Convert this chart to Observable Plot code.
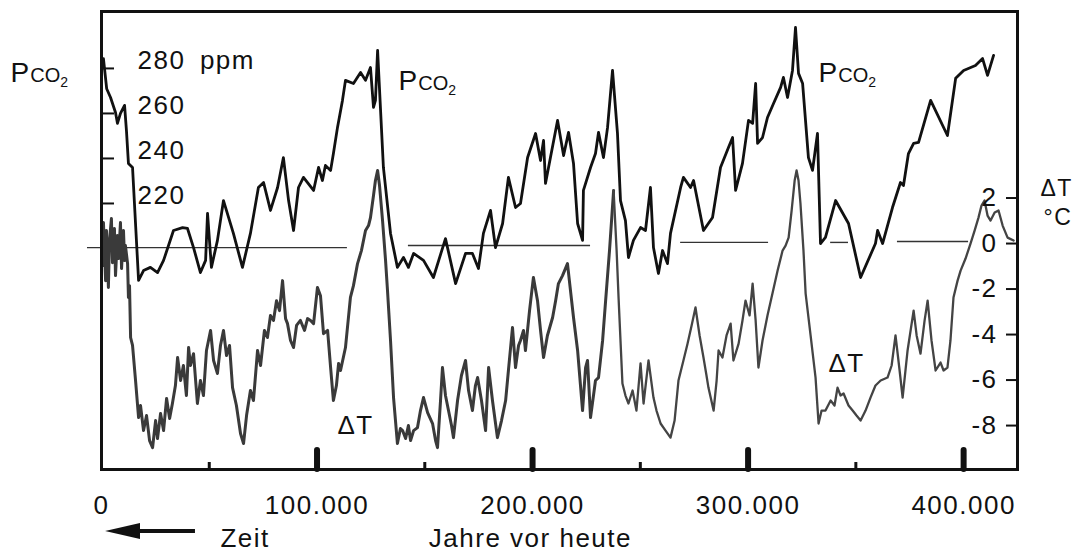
<!DOCTYPE html>
<html><head><meta charset="utf-8">
<script src="https://cdn.jsdelivr.net/npm/d3@7"></script>
<script src="https://cdn.jsdelivr.net/npm/@observablehq/plot@0.6"></script>
<style>
html,body{margin:0;padding:0;background:#fff;}
#chart svg{display:block;}
#chart svg text{letter-spacing:1.5px;}
</style></head><body><div id="chart"></div>
<script>
// CO2 (ppm) vs. thousand years before present
const co2Points = [[0.9,284.4],[2.4,271],[4.2,267.1],[6.5,260.4],[7.4,255.6],[8.8,260.0],[10.7,263.6],[11.6,252],[12.5,237.8],[14.4,236.0],[17.2,185.8],[19.5,190.2],[22.7,191.6],[26.0,189.3],[28.8,194.7],[33.4,208.0],[37.6,209.3],[39.9,208.9],[42.7,200.4],[45.9,189.3],[48.3,194.7],[49.2,215.6],[51.0,191.6],[53.8,203.6],[56.6,221.3],[61.2,206.7],[65.4,191.6],[69.1,206.7],[72.8,227.1],[75.2,229.3],[78.4,216.9],[81.7,227.1],[84.4,240.4],[86.8,221.3],[89.1,208.0],[91.4,227.1],[93.7,231.6],[98.4,225.8],[100.7,236.0],[102.5,230.2],[103.9,236.9],[106.3,234.7],[107.6,242.2],[109.5,253.8],[111.8,265.8],[113.2,274.7],[116.9,273.3],[120.2,278.2],[122.5,274.7],[124.8,280.4],[126.2,262.7],[127.1,265.8],[128.1,288.0],[130.8,236.0],[134.1,206.7],[137.3,191.6],[140.1,196.0],[142.4,191.6],[144.8,197.8],[149.4,194.7],[154.0,187.1],[159.6,204.4],[164.3,184.4],[168.9,197.8],[172.1,197.8],[174.9,191.1],[177.2,206.7],[180.5,216.9],[182.8,200.4],[186.1,211.1],[188.8,231.6],[192.1,218.2],[194.4,220.0],[197.7,240.4],[201.4,251.1],[203.7,239.1],[205.1,248.0],[206.0,228.9],[208.3,240.4],[211.6,256.9],[214.4,241.3],[216.7,251.6],[219.0,237.8],[220.9,211.1],[223.2,203.6],[223.6,225.8],[226.9,236.0],[229.2,242.2],[230.6,251.6],[232.9,240.4],[234.8,253.8],[237.1,279.1],[239.4,251.1],[240.8,221.3],[243.1,212.4],[244.5,196.0],[246.8,203.6],[250.1,209.3],[252.4,208.0],[254.7,227.1],[256.1,200.4],[258.4,188.9],[260.3,199.1],[262.6,193.3],[264.0,206.7],[268.7,227.1],[270.0,231.6],[273.3,227.1],[274.7,230.2],[279.3,208.0],[283.5,213.8],[287.2,236.0],[290.9,244.9],[292.8,249.3],[294.2,225.8],[297.4,237.8],[300.2,256.9],[302.1,255.6],[303.5,273.3],[304.4,246.7],[306.7,249.3],[309.0,258.2],[311.8,264.4],[315.1,271.6],[316.4,276.0],[318.3,267.1],[320.6,279.1],[322.0,298.2],[323.4,277.8],[325.3,273.3],[328.0,240.4],[329.9,234.7],[332.2,251.1],[333.6,202.2],[335.9,204.9],[340.6,221.3],[346.6,211.1],[352.2,187.1],[359.1,202.2],[360.1,208.0],[362.4,202.2],[367.0,218.2],[370.7,229.3],[372.1,228.0],[374.4,242.2],[376.8,246.7],[379.1,247.1],[384.7,265.8],[392.5,250.2],[396.3,275.6],[400.0,279.1],[405.5,281.3],[408.8,284.4],[411.1,276.9],[413.9,285.8]];

// Temperature anomaly (°C) vs. thousand years before present
const tempPoints = [[0,0.35],[0.5,-0.97],[0.9,0.92],[1.9,-1.63],[2.3,0.57],[3.2,-1.93],[3.7,0.13],[4.6,1.10],[5.1,-0.84],[6.0,0.66],[6.5,-1.41],[7.4,0.35],[7.9,-0.66],[8.8,0.92],[9.3,-1.10],[10.2,0.57],[10.7,-0.75],[11.1,-0.09],[12.1,-0.88],[12.5,-2.37],[13.0,-1.85],[13.5,-4.13],[14.4,-4.48],[15.8,-6.02],[17.2,-7.65],[18.1,-7.12],[19.5,-8.22],[20.9,-7.56],[22.3,-8.66],[23.7,-8.97],[25.1,-7.78],[26.0,-8.57],[27.4,-7.47],[28.8,-8.22],[30.2,-6.81],[31.6,-7.69],[32.9,-7.03],[34.3,-6.24],[35.3,-5.01],[36.7,-6.02],[38.0,-5.36],[39.4,-6.68],[40.4,-4.57],[41.3,-5.36],[42.7,-4.84],[44.5,-7.03],[45.9,-6.02],[47.3,-6.68],[48.7,-4.70],[50.6,-3.82],[52.0,-5.14],[53.8,-5.71],[55.2,-4.48],[56.6,-3.82],[58.0,-4.92],[59.4,-4.48],[60.8,-6.33],[62.6,-7.12],[64.5,-8.35],[65.9,-8.79],[67.3,-7.56],[69.1,-6.46],[70.5,-6.90],[72.4,-4.70],[73.8,-5.36],[75.6,-3.82],[77.0,-4.13],[78.4,-3.16],[79.8,-3.38],[81.2,-2.51],[82.6,-2.95],[84.0,-1.63],[85.4,-3.30],[86.3,-3.52],[87.7,-4.26],[89.1,-4.57],[90.5,-3.60],[92.3,-3.38],[94.2,-3.82],[95.6,-3.30],[97.0,-3.38],[98.4,-3.52],[100.2,-1.93],[101.6,-2.29],[103.0,-3.96],[104.9,-3.82],[106.3,-5.45],[107.6,-6.90],[109.0,-6.24],[110.0,-5.27],[110.9,-5.58],[113.2,-4.57],[115.5,-2.37],[116.9,-1.85],[118.8,-0.88],[120.6,-0.31],[122.5,0.57],[123.9,0.79],[124.8,1.14],[126.2,2.11],[127.1,2.77],[128.1,3.21],[129.0,2.55],[130.4,1.01],[131.8,-0.75],[132.7,-2.07],[134.1,-4.26],[135.5,-6.77],[137.3,-8.79],[138.7,-8.13],[139.7,-8.22],[141.1,-8.57],[142.4,-8.00],[143.4,-8.66],[144.8,-8.22],[146.6,-8.09],[148.0,-7.34],[149.4,-6.77],[151.3,-7.43],[153.6,-7.91],[155.0,-8.66],[155.9,-8.97],[157.3,-6.90],[158.2,-5.45],[159.6,-6.68],[161.0,-7.34],[162.4,-8.00],[163.3,-8.53],[165.2,-6.90],[167.0,-5.80],[168.9,-5.14],[170.3,-6.46],[172.1,-7.34],[173.5,-6.24],[174.5,-5.89],[176.3,-6.90],[178.2,-8.22],[179.6,-5.45],[181.4,-6.90],[183.7,-8.53],[185.6,-7.78],[187.5,-6.90],[188.8,-5.58],[190.7,-3.69],[192.1,-5.45],[193.5,-4.48],[194.4,-4.26],[195.8,-3.82],[196.7,-4.70],[198.6,-2.95],[200.4,-1.49],[202.3,-2.51],[203.7,-3.82],[205.1,-5.01],[206.9,-4.04],[209.3,-3.25],[210.7,-2.51],[212.0,-1.76],[213.9,-1.41],[216.2,-0.88],[217.6,-2.07],[219.0,-3.25],[220.9,-4.70],[223.2,-7.34],[224.6,-5.45],[225.5,-5.14],[226.9,-7.65],[229.2,-6.02],[230.6,-5.89],[232.5,-4.26],[233.9,-2.51],[235.7,-0.31],[237.6,2.33],[239.0,-0.31],[239.9,-2.37],[241.7,-6.15],[243.1,-6.68],[244.5,-7.03],[246.4,-6.46],[248.2,-7.34],[250.1,-5.27],[251.5,-7.03],[253.8,-5.14],[256.1,-6.77],[257.5,-7.34],[259.4,-7.91],[261.7,-8.22],[264.0,-8.53],[265.9,-7.78],[267.7,-6.02],[270.0,-5.14],[271.9,-4.40],[273.8,-3.60],[275.6,-2.81],[277.5,-4.04],[279.3,-5.01],[280.7,-5.80],[281.6,-6.33],[284.0,-7.34],[285.4,-6.02],[286.3,-4.70],[288.1,-5.01],[290.0,-4.04],[291.9,-3.52],[293.2,-5.14],[295.6,-4.40],[297.4,-3.38],[298.8,-2.51],[300.7,-3.16],[302.1,-1.76],[303.5,-3.38],[304.8,-5.45],[306.7,-4.26],[309.0,-3.16],[311.3,-2.20],[313.7,-1.19],[316.0,-0.31],[317.4,-0.09],[318.8,0.26],[320.2,1.45],[321.6,2.77],[322.5,3.21],[323.4,2.77],[324.3,1.76],[325.7,-0.31],[326.7,-2.20],[329.0,-4.04],[331.3,-5.89],[332.7,-7.91],[334.1,-7.34],[335.9,-7.34],[338.3,-6.90],[340.1,-7.12],[341.5,-6.33],[342.9,-6.68],[344.3,-6.59],[346.6,-7.12],[348.5,-7.34],[350.3,-7.56],[352.2,-7.78],[354.5,-7.34],[356.8,-6.77],[359.1,-6.24],[361.5,-6.02],[364.7,-5.89],[366.6,-5.36],[368.4,-4.04],[370.3,-5.58],[371.7,-6.77],[374.0,-4.70],[376.8,-2.95],[378.2,-4.04],[380.0,-4.84],[381.9,-3.38],[383.3,-2.51],[385.1,-4.26],[387.0,-5.58],[389.3,-5.23],[390.7,-5.58],[392.5,-5.45],[393.9,-4.26],[395.3,-2.37],[397.2,-1.63],[398.6,-1.19],[400.9,-0.66],[403.2,0.00],[405.1,0.57],[406.9,1.14],[408.3,1.67],[409.7,1.89],[411.1,1.23],[412.5,1.01],[414.4,1.36],[416.2,1.45],[418.1,0.79],[420.4,0.26],[423.2,0.13]];

// thin reference line segments: [from kyr, to kyr, ppm]
const refSegments = [[-6.5,114.1,200.4],[142.4,226.9,201.3],[268.7,309.5,202.7],[338.3,346.6,202.7],[369.3,402.3,203.1]];

const co2Ticks = [220, 240, 260, 280];
const co2TickLabels = ["220", "240", "260", "280\u2002ppm"];
const tempTicks = [2, 0, -2, -4, -6, -8];
const tempTickLabels = ["2", "0", "-2", "-4", "-6", "-8"];
const xMajorTicks = [100000, 200000, 300000, 400000];
const xMinorTicks = [50000, 150000, 250000, 350000];
const xLabelValues = [0, 100000, 200000, 300000, 400000];
const xLabelTexts = ["0", "100.000", "200.000", "300.000", "400.000"];

// annotation anchors (kyr / ppm or °C)
const pco2Labels = [[-42.2, 273.8], [137.8, 270.2], [332.7, 273.8]];
const dtLabels = [[109.5, -8.0], [337.3, -5.27]];

// secondary (°C) axis expressed in the ppm scale
const tToPpm = t => 202.2 + 10.11 * t;

const FONT = "Liberation Sans, Arial, Helvetica, sans-serif";
const INK = "#111";
const early = tempPoints.filter(d => d[0] <= 237.6);
const late = tempPoints.filter(d => d[0] >= 237.6);

const chart = Plot.plot({
  width: 1085, height: 553,
  marginLeft: 101, marginRight: 68, marginTop: 11, marginBottom: 84,
  x: {domain: [0, 425000], axis: null},
  y: {domain: [101.8, 305.3], axis: null},
  style: {fontFamily: FONT, background: "#fff", color: INK, overflow: "visible"},
  marks: [
    Plot.ruleY(refSegments, {y: d => d[2], x1: d => d[0] * 1000, x2: d => d[1] * 1000, stroke: "#333", strokeWidth: 1.4, clip: false}),
    Plot.line(early, {x: d => d[0] * 1000, y: d => tToPpm(d[1]), stroke: "#3a3a3a", strokeWidth: 3, strokeLinejoin: "round"}),
    Plot.line(late, {x: d => d[0] * 1000, y: d => tToPpm(d[1]), stroke: "#444", strokeWidth: 2.3, strokeLinejoin: "round"}),
    Plot.line(co2Points, {x: d => d[0] * 1000, y: d => d[1], stroke: INK, strokeWidth: 2.8, strokeLinejoin: "round"}),
    Plot.frame({stroke: INK, strokeWidth: 3}),
    Plot.tickX(xMajorTicks, {x: d => d, insetTop: 439, stroke: INK, strokeWidth: 6, strokeLinecap: "round"}),
    Plot.tickX(xMinorTicks, {x: d => d, insetTop: 451, stroke: INK, strokeWidth: 3}),
    Plot.tickY(co2Ticks, {y: d => d, insetRight: 903, stroke: INK, strokeWidth: 2}),
    Plot.tickY(tempTicks, {y: d => tToPpm(d), insetLeft: 905, stroke: INK, strokeWidth: 2}),
    Plot.text(co2Ticks, {y: d => d, text: (d, i) => co2TickLabels[i], frameAnchor: "left", dx: 36, dy: 1, textAnchor: "start", lineAnchor: "bottom", fontSize: 26, fill: INK}),
    Plot.text(tempTicks, {y: d => tToPpm(d), text: (d, i) => tempTickLabels[i], frameAnchor: "right", dx: -20, textAnchor: "end", lineAnchor: "middle", fontSize: 26, fill: INK}),
    Plot.text(["\u0394T"], {y: tToPpm(2.42), frameAnchor: "right", dx: 23, textAnchor: "start", lineAnchor: "middle", fontSize: 23, fill: INK}),
    Plot.text(["\u00b0C"], {y: tToPpm(1.12), frameAnchor: "right", dx: 26, textAnchor: "start", lineAnchor: "middle", fontSize: 23, fill: INK}),
    Plot.text(xLabelValues, {x: d => d, text: (d, i) => xLabelTexts[i], frameAnchor: "bottom", dy: 44, lineAnchor: "bottom", fontSize: 26, fill: INK}),
    Plot.text(["Jahre vor heute"], {x: 199000, frameAnchor: "bottom", dy: 77, lineAnchor: "bottom", fontSize: 26, fill: INK}),
    Plot.text(["Zeit"], {x: 55200, frameAnchor: "bottom", dy: 77, lineAnchor: "bottom", textAnchor: "start", fontSize: 26, fill: INK}),
    Plot.text(dtLabels, {x: d => d[0] * 1000, y: d => tToPpm(d[1]), text: () => "\u0394T", textAnchor: "start", lineAnchor: "middle", fontSize: 26, fill: INK}),
    Plot.text(pco2Labels, {x: d => d[0] * 1000, y: d => d[1], text: () => "PCO2", textAnchor: "start", lineAnchor: "bottom", fontSize: 28, fill: INK, clip: false})
  ]
});

d3.select(chart).selectAll("text").filter(function() { return this.textContent === "PCO2"; }).each(function() {
  const t = d3.select(this);
  t.text(null).style("letter-spacing", "0px");
  t.append("tspan").text("P");
  t.append("tspan").attr("font-size", 20).attr("dx", 1).text("CO");
  t.append("tspan").attr("font-size", 14).attr("dy", 5).text("2");
});

const xs = chart.scale("x");
const sx = v => xs.apply(v);
const yArrow = 553 - 84 + 62;
const g = d3.select(chart).append("g");
g.append("line").attr("x1", sx(43600)).attr("x2", sx(15000)).attr("y1", yArrow).attr("y2", yArrow).attr("stroke", INK).attr("stroke-width", 4);
g.append("path").attr("d", `M${sx(1900)},${yArrow} L${sx(18100)},${yArrow - 8} L${sx(18100)},${yArrow + 8} Z`).attr("fill", INK);

document.getElementById("chart").append(chart);
</script>
</body></html>
